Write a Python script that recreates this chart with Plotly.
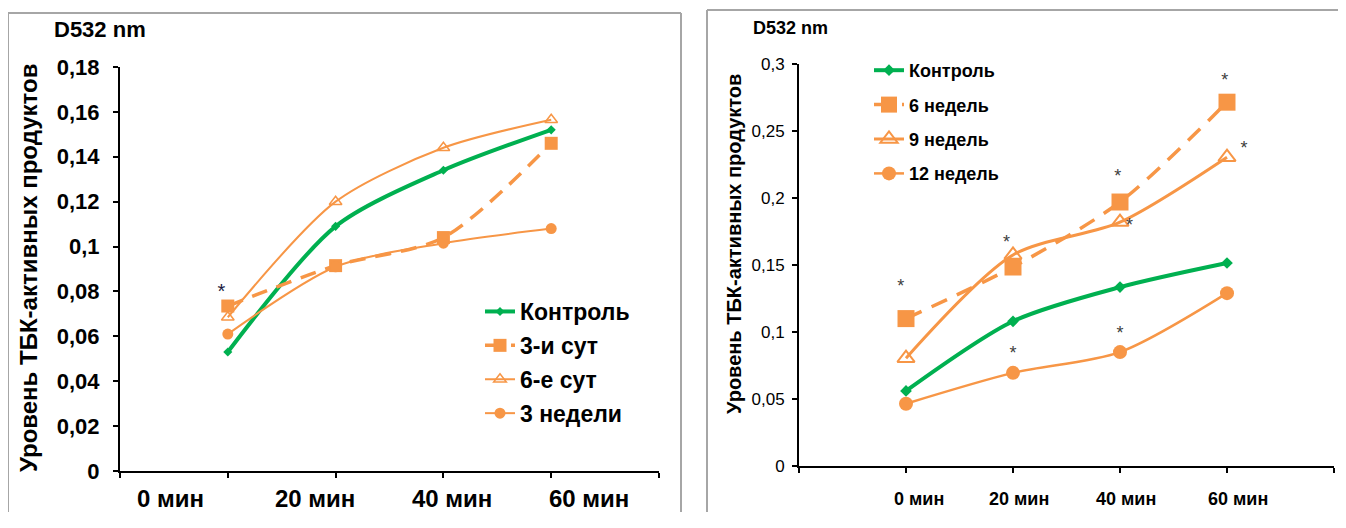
import plotly.graph_objects as go

# ---------------- data ----------------
x_pos = [1, 2, 3, 4]
x_labels = ["0 мин", "20 мин", "40 мин", "60 мин"]

# left panel
L_control = [0.053, 0.109, 0.134, 0.152]
L_3day = [0.0735, 0.0915, 0.104, 0.146]
L_6day = [0.0685, 0.120, 0.144, 0.1565]
L_3week = [0.061, 0.091, 0.1015, 0.108]
L_names = ["Контроль", "3-и сут", "6-е сут", "3 недели"]
L_star_x = [0.94]
L_star_y = [0.0795]

# right panel
R_control = [0.056, 0.108, 0.1335, 0.1515]
R_6wk = [0.110, 0.1485, 0.197, 0.2715]
R_9wk = [0.0805, 0.1575, 0.182, 0.2305]
R_12wk = [0.0465, 0.0695, 0.085, 0.129]
R_names = ["Контроль", "6 недель", "9 недель", "12 недель"]
R_star_x = [0.95, 1.94, 2.98, 3.09, 3.98, 4.16]
R_star_y = [0.133, 0.166, 0.2155, 0.179, 0.287, 0.236]
R_star2_x = [2.0, 3.0]
R_star2_y = [0.083, 0.0985]

# label positions (style)
L_label_x = [0.47, 1.81, 3.08, 4.35]
R_label_x = [1.12, 2.06, 3.06, 4.10]

GREEN = "#00B050"
ORANGE = "#F79646"
FONT = "Liberation Sans, Arial, sans-serif"

OFF = 8  # page body margin
W, H = 1346 - 2 * OFF, 528 - 2 * OFF - 8
def px(v):
    return (v - OFF) / W
def py(v):
    return 1 - (v - OFF) / H

fig = go.Figure()

def add_series(xa, ya, y, name, color, width, dash, symbol, msize, mline, legend, fill=True):
    fig.add_trace(go.Scatter(
        x=x_pos, y=y, name=name, xaxis=xa, yaxis=ya, legend=legend,
        mode="lines+markers",
        line=dict(color=color, width=width, dash=dash, shape="spline", smoothing=0.8),
        marker=dict(symbol=symbol, size=msize, color=color if fill else "white",
                    line=dict(color=color, width=mline)),
        legendgroup=name + legend,
    ))

# left panel traces
add_series("x", "y", L_control, L_names[0], GREEN, 4, "solid", "diamond", 7, 0, "legend")
add_series("x", "y", L_3day, L_names[1], ORANGE, 3.5, "16px,10px", "square", 13, 0, "legend")
add_series("x", "y", L_6day, L_names[2], ORANGE, 2, "solid", "triangle-up-open", 11, 1.5, "legend")
add_series("x", "y", L_3week, L_names[3], ORANGE, 2, "solid", "circle", 11, 0, "legend")
fig.add_trace(go.Scatter(x=L_star_x, y=L_star_y, mode="text", text=["*"] * len(L_star_x),
                         textfont=dict(size=20, color="#1a1a40", family=FONT),
                         xaxis="x", yaxis="y", showlegend=False))

# right panel traces
add_series("x2", "y2", R_control, R_names[0], GREEN, 4, "solid", "diamond", 9, 0, "legend2")
add_series("x2", "y2", R_6wk, R_names[1], ORANGE, 3.5, "17px,11px", "square", 17, 0, "legend2")
add_series("x2", "y2", R_9wk, R_names[2], ORANGE, 3, "solid", "triangle-up-open", 15, 2, "legend2")
add_series("x2", "y2", R_12wk, R_names[3], ORANGE, 2.5, "solid", "circle", 14, 0, "legend2")
fig.add_trace(go.Scatter(x=R_star_x + R_star2_x, y=R_star_y + R_star2_y, mode="text",
                         text=["*"] * (len(R_star_x) + len(R_star2_x)),
                         textfont=dict(size=18, color="#404040", family=FONT),
                         xaxis="x2", yaxis="y2", showlegend=False))

axis_common = dict(showgrid=False, zeroline=False, showline=True, linecolor="black",
                   linewidth=2, ticks="outside", tickcolor="black", tickwidth=2, ticklen=5,
                   automargin=False)

fig.update_layout(
    width=W, height=H, autosize=False,
    margin=dict(l=0, r=0, t=0, b=0, pad=0, autoexpand=False),
    plot_bgcolor="white", paper_bgcolor="white",
    font=dict(family=FONT, color="black"),
    xaxis=dict(domain=[px(120), px(659)], range=[0, 5], tickvals=[0, 1, 2, 3, 4, 5],
               showticklabels=False, anchor="y", **axis_common),
    yaxis=dict(domain=[py(471), py(67)], range=[0, 0.18], tickvals=[0, 0.02, 0.04, 0.06, 0.08, 0.1, 0.12, 0.14, 0.16, 0.18],
               ticktext=["0", "0,02", "0,04", "0,06", "0,08", "0,1", "0,12", "0,14", "0,16", "0,18"],
               tickfont=dict(size=22, weight="bold", family=FONT), ticklabelstandoff=9,
               anchor="x", **axis_common),
    xaxis2=dict(domain=[px(799), px(1334)], range=[0, 5], tickvals=[0, 1, 2, 3, 4, 5],
                showticklabels=False, anchor="y2", **axis_common),
    yaxis2=dict(domain=[py(466), py(64)], range=[0, 0.3], tickvals=[0, 0.05, 0.1, 0.15, 0.2, 0.25, 0.3],
                ticktext=["0", "0,05", "0,1", "0,15", "0,2", "0,25", "0,3"],
                tickfont=dict(size=17, family=FONT), ticklabelstandoff=4,
                anchor="x2", **axis_common),
    legend=dict(x=px(480), y=py(290), xanchor="left", yanchor="top",
                font=dict(size=23, weight="bold", family=FONT), tracegroupgap=1,
                bgcolor="rgba(0,0,0,0)"),
    legend2=dict(x=px(869), y=py(52), xanchor="left", yanchor="top",
                 font=dict(size=18, weight="bold", family=FONT), tracegroupgap=8,
                 bgcolor="rgba(0,0,0,0)"),
    showlegend=True,
)

annotations = []
for lx, lab in zip(L_label_x, x_labels):
    annotations.append(dict(x=lx, y=py(498), xref="x", yref="paper", text=lab, showarrow=False,
                            font=dict(size=24, weight="bold", family=FONT), xanchor="center", yanchor="middle"))
for lx, lab in zip(R_label_x, x_labels):
    annotations.append(dict(x=lx, y=py(499), xref="x2", yref="paper", text=lab, showarrow=False,
                            font=dict(size=18, weight="bold", family=FONT), xanchor="center", yanchor="middle"))
annotations += [
    dict(x=px(28), y=py(268), xref="paper", yref="paper", text="Уровень ТБК-активных продуктов",
         textangle=-90, showarrow=False, font=dict(size=24, weight="bold", family=FONT),
         xanchor="center", yanchor="middle"),
    dict(x=px(734), y=py(244), xref="paper", yref="paper", text="Уровень ТБК-активных продуктов",
         textangle=-90, showarrow=False, font=dict(size=20, weight="bold", family=FONT),
         xanchor="center", yanchor="middle"),
    dict(x=px(52), y=py(30), xref="paper", yref="paper", text="D532 nm", showarrow=False,
         font=dict(size=22, weight="bold", family=FONT), xanchor="left", yanchor="middle"),
    dict(x=px(751), y=py(28), xref="paper", yref="paper", text="D532 nm", showarrow=False,
         font=dict(size=18, weight="bold", family=FONT), xanchor="left", yanchor="middle"),
]
fig.update_layout(annotations=annotations)

BORDER = dict(color="#A6A6A6", width=2)
def seg(x0, y0, x1, y1):
    return dict(type="line", xref="paper", yref="paper", x0=px(x0), y0=py(y0), x1=px(x1), y1=py(y1),
                line=BORDER, layer="below")

fig.update_layout(shapes=[
    seg(8, 13, 681, 13), seg(8, 13, 8, 520), seg(681, 13, 681, 520),
    seg(707, 10, 1338, 10), seg(707, 10, 707, 520),
])

fig.write_html("out.html")
